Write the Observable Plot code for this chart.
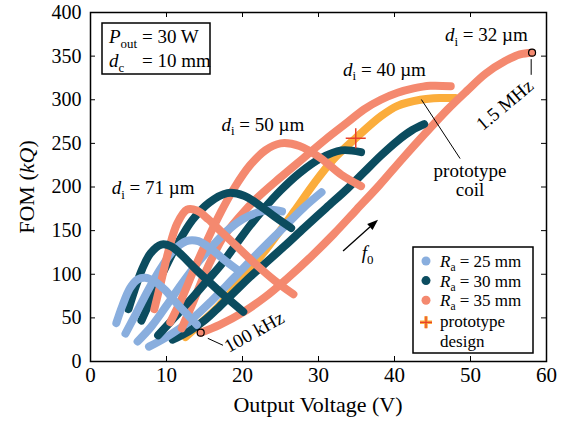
<!DOCTYPE html>
<html><head><meta charset="utf-8">
<script src="https://cdn.jsdelivr.net/npm/d3@7"></script>
<script src="https://cdn.jsdelivr.net/npm/@observablehq/plot@0.6"></script>
<style>body{margin:0;background:#fff} svg{display:block}</style>
</head><body><div id="chart"></div>
<script>
const xTicks = [0, 10, 20, 30, 40, 50, 60];
const yTicks = [0, 50, 100, 150, 200, 250, 300, 350, 400];
const colBlue = "#89aede", colTeal = "#0b4c5f", colSalmon = "#f4896f", colOrange = "#fbad3c", colPlus = "#e8402a";

// [Output voltage (V), FOM (kQ)] — each curve runs 100 kHz -> 1.5 MHz
const ra25_d71 = [[3.4,44],[4.2,64],[5.2,84],[6.2,94],[7.2,96],[8.4,92],[9.8,82],[11.2,68],[12.6,55],[14,42]];
const ra25_d50 = [[4.6,32],[6,55],[7.6,82],[9.2,106],[10.8,126],[12.6,138],[14.2,138],[16,128],[17.8,115],[19.5,104]];
const ra25_d40 = [[6.2,23],[8,40],[10,64],[12,89],[14,112],[16,132],[18,150],[20,163],[22,171],[23.8,174],[25.2,172]];
const ra25_d32 = [[7.7,17],[10,28],[13,46],[16,70],[19,97],[22,124],[25,150],[28,176],[30.4,194]];
const ra30_d71 = [[5,60],[5.8,82],[6.8,106],[7.9,124],[9.3,134],[10.6,132],[12,122],[13.6,108],[15.4,93],[17.4,77],[20.1,57]];
const ra30_d50 = [[6.7,47],[8,72],[9.6,103],[11.4,134],[13.4,162],[15.6,182],[18,193],[20.2,190],[22.4,178],[24.4,165],[26.4,153]];
const ra30_d40 = [[8.9,30],[11,50],[13.5,74],[15.5,94],[17.1,110],[19.3,136],[21,156],[22.8,175],[25,196],[27.5,216],[30.3,233],[33,242],[35.6,240]];
const ra30_d32 = [[10.8,25],[13,35],[15,47],[17,63],[19,80],[21,97],[22.8,111],[25.5,132],[28.1,153],[31,176],[33.8,198],[36,217],[38.2,236],[40.4,253],[42.3,265],[43.9,272]];
const ra35_d71 = [[8.4,60],[9.3,92],[10.3,128],[11.4,158],[12.7,174],[14,173],[15.5,163],[17.3,148],[19.5,130],[21.8,111],[24.2,93],[26.7,77]];
const ra35_d50 = [[10.5,45],[12,72],[13.6,105],[15.3,138],[17.2,172],[19,200],[21,225],[23,242],[25,250],[27.5,247],[30.3,233],[33,214],[35.6,201]];
const ra35_d40 = [[12,38],[13.5,68],[15,100],[16.3,124],[17.5,143],[19.5,165],[22,188],[25,211],[28,233],[31,255],[33.8,274],[36,289],[38.2,300],[40.4,308],[42.5,313],[44.7,316],[47.4,315.5]];
const ra35_d32 = [[14.5,33],[17,42],[20,56],[23,74],[26,96],[29,120],[32,146],[35,174],[38,202],[41,232],[44,261],[47,289],[49.5,310],[52,330],[54.5,344],[56.5,352],[58.1,354]];
const protoCoil = [[12.5,28],[14.5,44],[16.7,62],[20.1,96],[23.5,133],[26.8,172],[29.5,205],[32,232],[34.9,256],[38.2,281],[40.4,293],[43.4,300],[46,302],[48,302]];
const protoDesign = [[34.9,256]];
const freqEnds = [ra35_d32[0], ra35_d32[ra35_d32.length - 1]];

const curveStyle = (c) => ({x: d => d[0], y: d => d[1], stroke: c, strokeWidth: 8, strokeLinecap: "round", strokeLinejoin: "round", curve: "catmull-rom"});
// drawing order: prototype first, then wire-diameter groups 32 -> 71 (Ra 35, 30, 25 within each)
const groups = [
  [ra35_d32, ra30_d32, ra25_d32],
  [ra35_d40, ra30_d40, ra25_d40],
  [ra35_d50, ra30_d50, ra25_d50],
  [ra35_d71, ra30_d71, ra25_d71]
];
const groupColors = [colSalmon, colTeal, colBlue];

const W = 573, H = 421;
const mTop = 12, mBottom = 60, mLeft = 90, mRight = 27;
const innerH = H - mTop - mBottom, innerW = W - mLeft - mRight;
const tickLen = 5;
const chart = Plot.plot({
  width: W, height: H,
  marginLeft: mLeft, marginRight: mRight, marginTop: mTop, marginBottom: mBottom,
  style: {fontFamily: "'Liberation Serif', 'Times New Roman', serif", fontSize: "20px", background: "white", color: "black"},
  x: {domain: [0, 60]},
  y: {domain: [0, 400]},
  marks: [
    Plot.line(protoCoil, curveStyle(colOrange)),
    ...groups.flatMap(gr => gr.map((d, i) => Plot.line(d, curveStyle(groupColors[i])))),
    Plot.dot(freqEnds, {x: d => d[0], y: d => d[1], r: 3.5, fill: colSalmon, stroke: "black", strokeWidth: 1.2}),
    Plot.dot(protoDesign, {x: d => d[0], y: d => d[1], symbol: "plus", r: 6.5, stroke: colPlus, strokeWidth: 1.5}),
    Plot.tickX(xTicks, {x: d => d, insetTop: innerH - tickLen, stroke: "black", strokeWidth: 1}),
    Plot.tickX(xTicks, {x: d => d, insetBottom: innerH - tickLen, stroke: "black", strokeWidth: 1}),
    Plot.tickY(yTicks, {y: d => d, insetRight: innerW - tickLen, stroke: "black", strokeWidth: 1}),
    Plot.tickY(yTicks, {y: d => d, insetLeft: innerW - tickLen, stroke: "black", strokeWidth: 1}),
    Plot.axisX({ticks: xTicks, tickSize: 0, tickPadding: 6, label: null, fontSize: 21}),
    Plot.axisY({ticks: yTicks, tickSize: 0, tickPadding: 9, label: null, fontSize: 20}),
    Plot.frame({stroke: "black", strokeWidth: 1.5})
  ]
});
document.getElementById("chart").appendChild(chart);

const sx = chart.scale("x"), sy = chart.scale("y");
const X = v => sx.apply(v), Y = v => sy.apply(v);
const svg = d3.select(chart);
const g = svg.append("g").attr("font-family", "'Liberation Serif', 'Times New Roman', serif").attr("fill", "black");

function rich(parent, x, y, parts, size, anchor = "start", rotate = 0) {
  const t = parent.append("text").attr("x", x).attr("y", y).attr("font-size", size).attr("text-anchor", anchor);
  if (rotate) t.attr("transform", `rotate(${rotate},${x},${y})`);
  let shifted = false;
  for (const p of parts) {
    const s = t.append("tspan").text(p.t);
    if (p.it) s.attr("font-style", "italic");
    if (p.sub) { s.attr("font-size", size * 0.68).attr("dy", size * 0.25); shifted = true; }
    else if (shifted) { s.attr("dy", -size * 0.25); shifted = false; }
  }
  return t;
}
const fs = 19;
const diLabels = [
  {x: 2.85, y: 191, v: "= 71 µm"},
  {x: 17.3, y: 264, v: "= 50 µm"},
  {x: 33.3, y: 327, v: "= 40 µm"},
  {x: 46.7, y: 367, v: "= 32 µm"}
];
for (const l of diLabels) rich(g, X(l.x), Y(l.y), [{t: "d", it: true}, {t: "i", sub: true}, {t: " " + l.v}], fs);

// parameter box
g.append("rect").attr("x", 102).attr("y", 23).attr("width", 108).attr("height", 51).attr("fill", "white").attr("stroke", "black").attr("stroke-width", 1.5);
rich(g, 109, 43, [{t: "P", it: true}, {t: "out", sub: true}], fs);
rich(g, 142, 43, [{t: "= 30 W"}], fs);
rich(g, 109, 67, [{t: "d", it: true}, {t: "c", sub: true}], fs);
rich(g, 142, 67, [{t: "= 10 mm"}], fs);

// 100 kHz
g.append("line").attr("x1", X(15.5)).attr("y1", Y(26)).attr("x2", X(17.5)).attr("y2", Y(18)).attr("stroke", "black").attr("stroke-width", 1);
rich(g, X(22), Y(34) + 6, [{t: "100 kHz"}], fs, "middle", -29);
// 1.5 MHz
g.append("line").attr("x1", X(58.05)).attr("y1", Y(346)).attr("x2", X(58.05)).attr("y2", Y(328)).attr("stroke", "black").attr("stroke-width", 1);
rich(g, X(55.1), Y(295) + 6, [{t: "1.5 MHz"}], fs, "middle", -40);
// prototype coil
g.append("line").attr("x1", X(43.6)).attr("y1", Y(299.7)).attr("x2", X(48.7)).attr("y2", Y(232)).attr("stroke", "black").attr("stroke-width", 1);
rich(g, X(50), Y(211), [{t: "prototype"}], fs, "middle");
rich(g, X(50), Y(189), [{t: "coil"}], fs, "middle");
// f0 arrow
{
  const x1 = X(33.3), y1 = Y(126), x2 = X(37.9), y2 = Y(162);
  const a = Math.atan2(y2 - y1, x2 - x1), L = 11, w = 4;
  const bx = x2 - L * Math.cos(a), by = y2 - L * Math.sin(a);
  g.append("line").attr("x1", x1).attr("y1", y1).attr("x2", bx).attr("y2", by).attr("stroke", "black").attr("stroke-width", 1.3);
  g.append("path").attr("d", `M${x2},${y2}L${bx - w * Math.sin(a)},${by + w * Math.cos(a)}L${bx + w * Math.sin(a)},${by - w * Math.cos(a)}Z`).attr("fill", "black");
  rich(g, X(35.75), Y(117), [{t: "f", it: true}, {t: "0", sub: true}], fs);
}

// legend
const legendItems = [
  {c: colBlue, v: "= 25 mm"},
  {c: colTeal, v: "= 30 mm"},
  {c: colSalmon, v: "= 35 mm"}
];
const lx = 413, ly = 247, lfs = 17, rowH = 19.6;
g.append("rect").attr("x", lx).attr("y", ly).attr("width", 120).attr("height", 106).attr("fill", "white").attr("stroke", "black").attr("stroke-width", 1.5);
legendItems.forEach((it, i) => {
  const cy = ly + 14 + i * rowH;
  g.append("circle").attr("cx", lx + 13).attr("cy", cy).attr("r", 4.5).attr("fill", it.c);
  rich(g, lx + 27, cy + 6, [{t: "R", it: true}, {t: "a", sub: true}, {t: " " + it.v}], lfs);
});
{
  const cy = ly + 14 + 3 * rowH + 2.5;
  g.append("path").attr("d", `M${lx + 13 - 6},${cy}h12M${lx + 13},${cy - 6}v12`).attr("stroke", colOrange).attr("stroke-width", 3.5);
  g.append("path").attr("d", `M${lx + 13 - 6},${cy}h12M${lx + 13},${cy - 6}v12`).attr("stroke", colPlus).attr("stroke-width", 1.2);
  rich(g, lx + 27, cy + 5, [{t: "prototype"}], lfs);
  rich(g, lx + 27, cy + 5 + rowH, [{t: "design"}], lfs);
}

// axis titles
rich(g, 318, 412, [{t: "Output Voltage (V)"}], 22, "middle");
rich(g, 34, 187, [{t: "FOM ("}, {t: "kQ", it: true}, {t: ")"}], 22, "middle", -90);
</script></body></html>
